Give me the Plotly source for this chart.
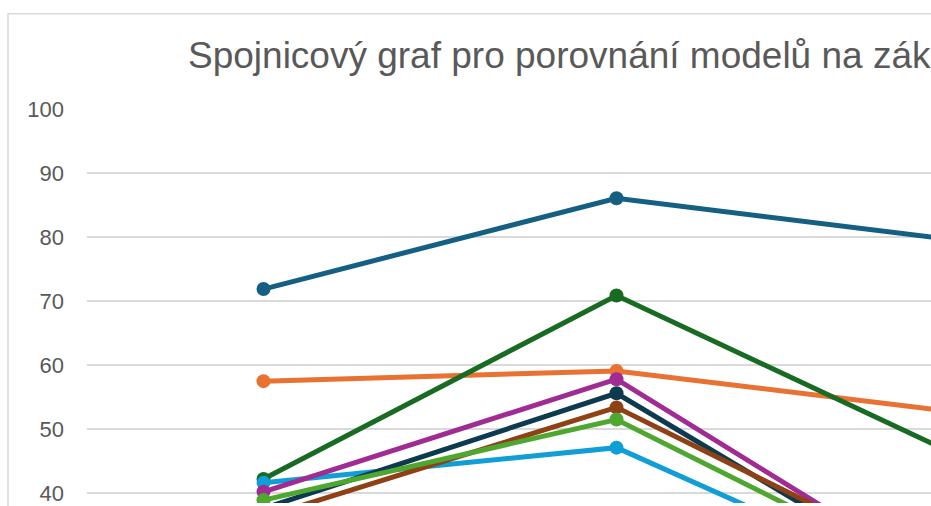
import plotly.graph_objects as go

W, H = 931, 506

categories = ["Sada 1", "Sada 2", "Sada 3"]
series_names = ["Model 1", "Model 2", "Model 3", "Model 4",
                "Model 5", "Model 6", "Model 7", "Model 8"]
model_1 = [71.9, 86.1, 79.3]
model_2 = [57.5, 59.1, 52.4]
model_3 = [42.2, 70.9, 45.0]
model_4 = [41.6, 47.1, 22.4]
model_5 = [40.2, 57.8, 23.7]
model_6 = [37.6, 55.6, 22.6]
model_7 = [36.2, 53.4, 26.1]
model_8 = [38.9, 51.5, 23.9]
series_values = [model_1, model_2, model_3, model_4,
                 model_5, model_6, model_7, model_8]
colors = ["#156082", "#E97132", "#196B24", "#0F9ED5",
          "#A02B93", "#0D3A4F", "#8F4115", "#4EA72E"]
y_ticks = [40, 50, 60, 70, 80, 90, 100]
title_text = "Spojnicový graf pro porovnání modelů na základě metrik"

fig = go.Figure()
for name, vals, col in zip(series_names, series_values, colors):
    fig.add_trace(go.Scatter(
        x=categories, y=vals, name=name, mode="lines+markers",
        line=dict(color=col, width=5),
        marker=dict(color=col, size=14),
        showlegend=False,
    ))

L, T = 87, 109
pw, ph = W - L, H - T
step = 353.0
px_per_unit = 6.45

fig.update_layout(
    width=W, height=H,
    margin=dict(l=L, r=0, t=T, b=0, pad=0),
    paper_bgcolor="white", plot_bgcolor="white",
    font=dict(family="Liberation Sans, Arial, sans-serif", color="#595959"),
    title=dict(text=title_text, x=188 / W, xanchor="left", xref="container",
               y=1 - 55 / H, yanchor="middle", yref="container",
               font=dict(size=37, color="#595959")),
    xaxis=dict(type="category", range=[-0.5, -0.5 + pw / step],
               showgrid=False, showticklabels=False, showline=False,
               zeroline=False, ticks=""),
    yaxis=dict(range=[40 - (H - 496) / px_per_unit, 100.05], tickvals=y_ticks,
               showgrid=True, gridcolor="#D9D9D9", gridwidth=1.5,
               zeroline=False, showline=False, ticks="",
               ticklabelstandoff=22, ticklabeloverflow="allow",
               tickfont=dict(size=22, color="#595959")),
    shapes=[dict(type="rect", xref="paper", yref="paper",
                 x0=(8 - L) / pw, x1=1.2,
                 y0=-0.2, y1=1 + (T - 13) / ph,
                 line=dict(color="#D9D9D9", width=1.5), layer="below")],
)

fig.write_html(
    "out.html",
    config={"displayModeBar": False},
    post_script="document.body.style.margin='0';document.body.style.overflow='hidden';",
)
